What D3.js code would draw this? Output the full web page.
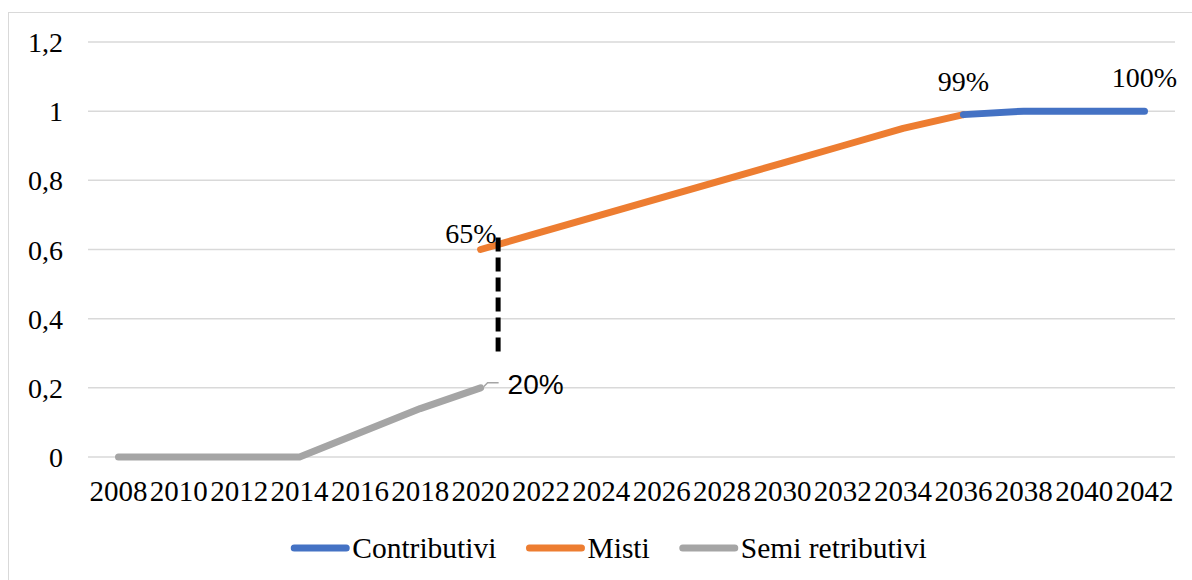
<!DOCTYPE html>
<html lang="it">
<head>
  <meta charset="utf-8">
  <title>Contributivi, misti, semi retributivi</title>
  <script src="https://d3js.org/d3.v7.min.js"></script>
  <style>
    body { margin: 0; background: #fff; }
    text { font-family: "Liberation Serif", "Times New Roman", Times, serif; fill: #000; }
  </style>
</head>
<body>
<script>
  // data
  var yTicks = [0, 0.2, 0.4, 0.6, 0.8, 1, 1.2];
  var xTickYears = d3.range(2008, 2043, 2);

  var semiYears = [2008, 2010, 2012, 2014, 2016, 2018, 2020];
  var semiValues = [0, 0, 0, 0, 0.07, 0.14, 0.2];

  var mistiYears = [2020, 2022, 2024, 2026, 2028, 2030, 2032, 2034, 2036];
  var mistiValues = [0.6, 0.65, 0.7, 0.75, 0.8, 0.85, 0.9, 0.95, 0.99];

  var contribYears = [2036, 2038, 2040, 2042];
  var contribValues = [0.99, 1, 1, 1];

  var seriesNames = ["Contributivi", "Misti", "Semi retributivi"];
  var seriesColors = ["#4472C4", "#ED7D31", "#A5A5A5"];

  var w = 1192, h = 580;

  var svg = d3.select("body").append("svg")
    .attr("width", w)
    .attr("height", h);

  // chart frame
  svg.append("rect")
    .attr("x", 8.5).attr("y", 12.5)
    .attr("width", 1200).attr("height", 600)
    .attr("fill", "none")
    .attr("stroke", "#D9D9D9");

  var x = d3.scaleLinear().domain([2008, 2042]).range([118.5, 1144.5]);
  var y = d3.scaleLinear().domain([0, 1.2]).range([457, 42]);

  // gridlines
  svg.selectAll("line.grid")
    .data(yTicks)
    .enter().append("line")
    .attr("class", "grid")
    .attr("x1", 88).attr("x2", 1175)
    .attr("y1", function(d) { return y(d); })
    .attr("y2", function(d) { return y(d); })
    .attr("stroke", "#D9D9D9")
    .attr("stroke-width", 1.5);

  // y axis labels, comma decimals
  var fmt = function(d) { return String(d).replace(".", ","); };
  svg.selectAll("text.ylab")
    .data(yTicks)
    .enter().append("text")
    .attr("class", "ylab")
    .attr("x", 63)
    .attr("y", function(d) { return y(d) + 10; })
    .attr("text-anchor", "end")
    .style("font-size", "28px")
    .text(fmt);

  // x axis labels
  svg.selectAll("text.xlab")
    .data(xTickYears)
    .enter().append("text")
    .attr("class", "xlab")
    .attr("x", function(d) { return x(d); })
    .attr("y", 501)
    .attr("text-anchor", "middle")
    .style("font-size", "29px")
    .text(function(d) { return d; });

  var line = d3.line()
    .x(function(d) { return x(d[0]); })
    .y(function(d) { return y(d[1]); });

  var series = [
    d3.zip(contribYears, contribValues),
    d3.zip(mistiYears, mistiValues),
    d3.zip(semiYears, semiValues)
  ];

  // grey first, then orange, blue on top
  [2, 1, 0].forEach(function(i) {
    svg.append("path")
      .datum(series[i])
      .attr("d", line)
      .attr("fill", "none")
      .attr("stroke", seriesColors[i])
      .attr("stroke-width", 7)
      .attr("stroke-linecap", "round")
      .attr("stroke-linejoin", "round");
  });

  // dashed jump marker between the two regimes
  svg.append("line")
    .attr("x1", x(2020.58)).attr("x2", x(2020.58))
    .attr("y1", y(0.635)).attr("y2", y(0.29))
    .attr("stroke", "#000")
    .attr("stroke-width", 5)
    .attr("stroke-dasharray", "14,6");

  // data labels
  var sx = x(semiYears[semiYears.length - 1]);
  var sy = y(semiValues[semiValues.length - 1]);
  svg.append("polyline")
    .attr("points", [[sx + 3, sy - 1], [sx + 7, sy - 5], [sx + 18, sy - 5]].join(" "))
    .attr("fill", "none")
    .attr("stroke", "#A5A5A5")
    .attr("stroke-width", 1.5);
  svg.append("text")
    .attr("x", sx + 27).attr("y", sy + 6)
    .style("font-family", "'Liberation Sans', Arial, sans-serif")
    .style("font-size", "28px")
    .text(Math.round(semiValues[semiValues.length - 1] * 100) + "%");

  svg.append("text")
    .attr("x", x(mistiYears[0]) + 16)
    .attr("y", y(mistiValues[0]) - 7)
    .attr("text-anchor", "end")
    .style("font-size", "28px")
    .text("65%");

  svg.append("text")
    .attr("x", x(2036))
    .attr("y", y(0.99) - 24)
    .attr("text-anchor", "middle")
    .style("font-size", "28px")
    .text("99%");

  svg.append("text")
    .attr("x", x(2042))
    .attr("y", y(1) - 24)
    .attr("text-anchor", "middle")
    .style("font-size", "28px")
    .text("100%");

  // legend
  var legend = svg.append("g");
  var lx = 0;
  seriesNames.forEach(function(name, i) {
    var g = legend.append("g").attr("transform", "translate(" + lx + ",0)");
    g.append("line")
      .attr("x1", 3).attr("x2", 55)
      .attr("y1", 0).attr("y2", 0)
      .attr("stroke", seriesColors[i])
      .attr("stroke-width", 7)
      .attr("stroke-linecap", "round");
    var t = g.append("text")
      .attr("x", 61).attr("y", 10)
      .style("font-size", "29.5px")
      .text(name);
    lx += 61 + t.node().getComputedTextLength() + 30;
  });
  var legendW = lx - 30;
  legend.attr("transform", "translate(" + (609 - legendW / 2) + ",548)");
</script>
</body>
</html>
